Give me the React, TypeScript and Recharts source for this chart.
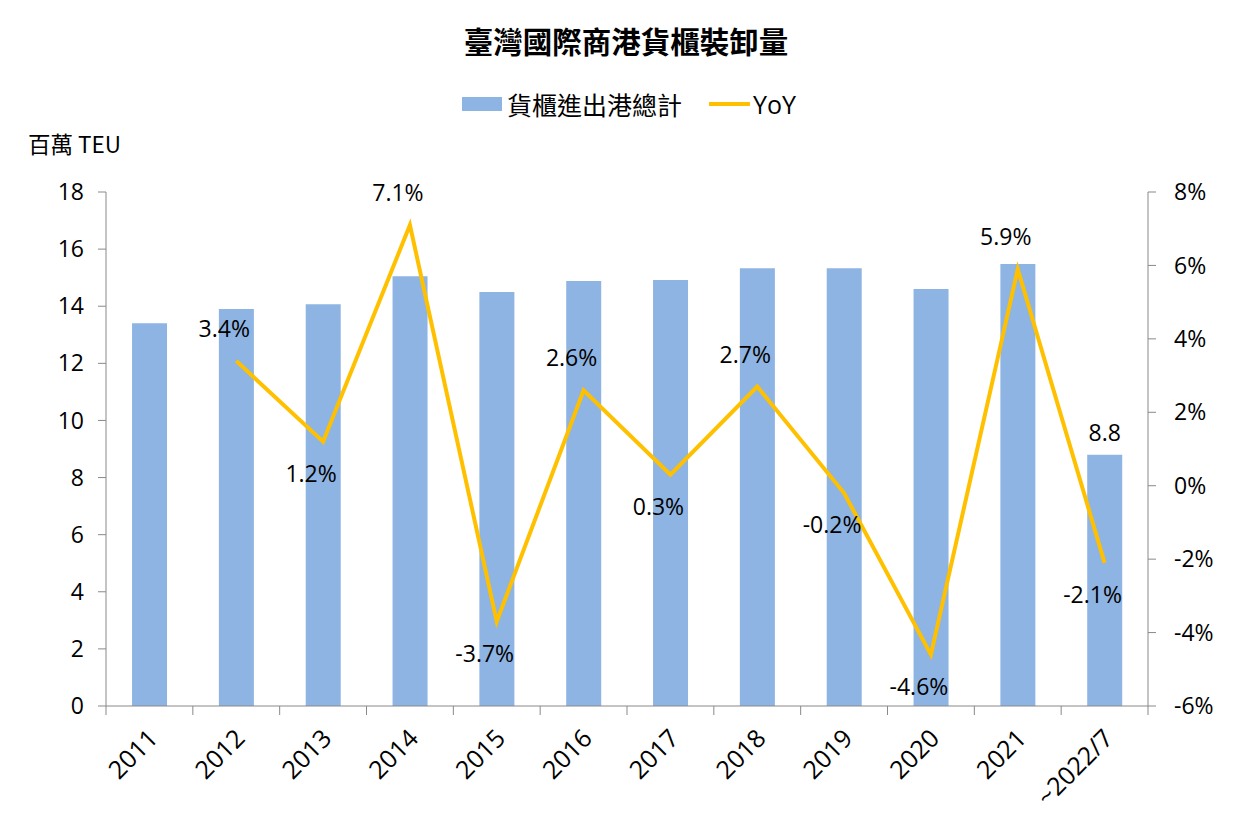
import { ComposedChart, Bar, Line, XAxis, YAxis, LabelList } from 'recharts';

const years = ['2011', '2012', '2013', '2014', '2015', '2016', '2017', '2018', '2019', '2020', '2021', '~2022/7'];
const teu = [13.4, 13.9, 14.07, 15.05, 14.5, 14.88, 14.92, 15.33, 15.33, 14.6, 15.48, 8.8];
const yoy: (number | null)[] = [null, 3.4, 1.2, 7.1, -3.7, 2.6, 0.3, 2.7, -0.2, -4.6, 5.9, -2.1];
const leftTicks = [0, 2, 4, 6, 8, 10, 12, 14, 16, 18];
const rightTicks = [-6, -4, -2, 0, 2, 4, 6, 8];

const data = years.map((y, i) => ({ year: y, teu: teu[i], yoy: yoy[i] }));

const FONT = "'Open Sans', 'Noto Sans CJK TC', sans-serif";
const CJK = "'Noto Sans CJK TC', sans-serif";
const AXIS = '#898989';
const BAR = '#8EB4E3';
const LINE = '#FFC000';

const W = 1252;
const H = 827;
const PLOT_LEFT = 106;
const PLOT_RIGHT = 1148;
const PLOT_TOP = 192;
const PLOT_BOTTOM = 706;
const BAND = (PLOT_RIGHT - PLOT_LEFT) / years.length;

const XTick = (props: any) => {
  const { x, y, payload, index } = props;
  const left = x - BAND / 2;
  const tx = x + 10;
  const ty = y + 26;
  return (
    <g>
      <line x1={left} y1={PLOT_BOTTOM} x2={left} y2={PLOT_BOTTOM + 9} stroke={AXIS} />
      {index === years.length - 1 && (
        <line x1={x + BAND / 2} y1={PLOT_BOTTOM} x2={x + BAND / 2} y2={PLOT_BOTTOM + 9} stroke={AXIS} />
      )}
      <text
        x={tx}
        y={ty}
        transform={`rotate(-45, ${tx}, ${ty})`}
        textAnchor="end"
        fontSize={25}
        fontFamily={FONT}
        fill="#000"
      >
        {payload.value}
      </text>
    </g>
  );
};

const YoyLabel = (props: any) => {
  const { x, y, value, index } = props;
  if (value === null || value === undefined) return null;
  const prev = yoy[index - 1];
  const above = prev === null || prev === undefined || value >= prev;
  return (
    <text
      x={x - 12}
      y={above ? y - 24 : y + 40}
      textAnchor="middle"
      fontSize={23}
      fontFamily={FONT}
      fill="#000"
    >
      {`${value.toFixed(1)}%`}
    </text>
  );
};

const BarLabel = (props: any) => {
  const { x, y, width, value, index } = props;
  if (index !== teu.length - 1) return null;
  return (
    <text x={x + width / 2} y={y - 14} textAnchor="middle" fontSize={23} fontFamily={FONT} fill="#000">
      {value.toFixed(1)}
    </text>
  );
};

export default function App() {
  return (
    <div style={{ position: 'absolute', left: 0, top: 0, width: W, height: H, background: '#fff', fontFamily: FONT }}>
      <div
        style={{
          position: 'absolute',
          top: 20,
          left: 0,
          width: W,
          textAlign: 'center',
          fontSize: 29.5,
          fontWeight: 'bold',
          fontFamily: CJK,
          lineHeight: '40px',
        }}
      >
        臺灣國際商港貨櫃裝卸量
      </div>
      <div style={{ position: 'absolute', top: 87, left: 462, display: 'flex', alignItems: 'center', fontSize: 25, height: 34 }}>
        <span style={{ display: 'inline-block', width: 40, height: 14, background: BAR, marginRight: 5 }} />
        <span style={{ fontFamily: CJK }}>貨櫃進出港總計</span>
        <span style={{ display: 'inline-block', width: 41, height: 4, background: LINE, marginLeft: 27, marginRight: 3 }} />
        <span>YoY</span>
      </div>
      <div style={{ position: 'absolute', top: 127, left: 28, fontSize: 22.5, fontFamily: CJK }}>
        百萬 TEU
      </div>
      <ComposedChart
        width={W}
        height={H}
        data={data}
        barCategoryGap="30%"
        margin={{ top: PLOT_TOP, right: W - PLOT_RIGHT - 80, left: PLOT_LEFT - 80, bottom: H - PLOT_BOTTOM - 110 }}
      >
        <XAxis
          dataKey="year"
          interval={0}
          height={110}
          stroke={AXIS}
          tickLine={false}
          tick={<XTick />}
        />
        <YAxis
          yAxisId="left"
          width={80}
          domain={[0, 18]}
          ticks={leftTicks}
          interval={0}
          stroke={AXIS}
          tickSize={8}
          tick={{ fill: '#000', fontSize: 23, fontFamily: FONT }}
          tickMargin={14}
        />
        <YAxis
          yAxisId="right"
          orientation="right"
          width={80}
          domain={[-6, 8]}
          ticks={rightTicks}
          interval={0}
          stroke={AXIS}
          tickSize={8}
          tick={{ fill: '#000', fontSize: 23, fontFamily: FONT }}
          tickMargin={18}
          tickFormatter={(v: number) => `${v}%`}
        />
        <Bar yAxisId="left" dataKey="teu" fill={BAR} isAnimationActive={false}>
          <LabelList dataKey="teu" content={<BarLabel />} />
        </Bar>
        <Line
          yAxisId="right"
          dataKey="yoy"
          stroke={LINE}
          strokeWidth={4}
          dot={false}
          isAnimationActive={false}
        >
          <LabelList dataKey="yoy" content={<YoyLabel />} />
        </Line>
      </ComposedChart>
    </div>
  );
}
